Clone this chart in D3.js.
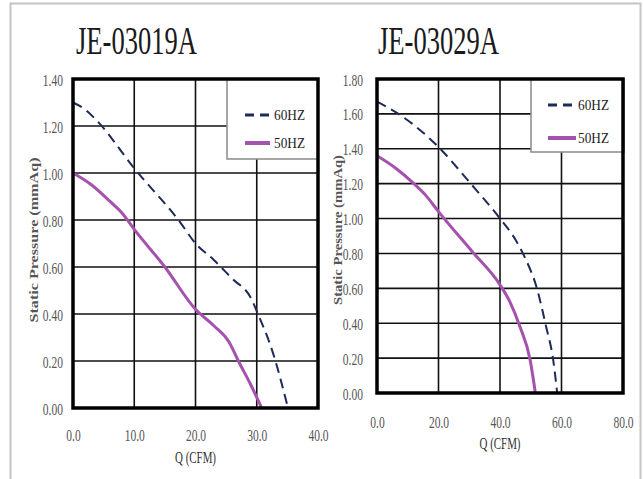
<!DOCTYPE html>
<html><head><meta charset="utf-8">
<script src="https://cdn.jsdelivr.net/npm/d3@7"></script>
<style>
body{margin:0;background:#fff;}
svg{display:block;}
.tick text{transform-box:fill-box;}
.ya .tick text{transform:scaleX(0.72);transform-origin:right center;}
.xa .tick text{transform:scaleX(0.72);transform-origin:center center;}
</style></head>
<body><div id="chart"></div>
<script>
// ---- data ----
const titles = ["JE-03019A", "JE-03029A"];
const seriesNames = ["60HZ", "50HZ"];
const xDomains = [[0, 40], [0, 80]];
const yDomains = [[0, 1.4], [0, 1.8]];
const xTicks = [[0, 10, 20, 30, 40], [0, 20, 40, 60, 80]];
const yTicks = [[0, 0.2, 0.4, 0.6, 0.8, 1.0, 1.2, 1.4], [0, 0.2, 0.4, 0.6, 0.8, 1.0, 1.2, 1.4, 1.6, 1.8]];
const xLabel = "Q (CFM)";
const yLabel = "Static Pressure (mmAq)";
// chart 1 (JE-03019A)
const a60 = [[0,1.30],[2,1.27],[4,1.22],[10,1.02],[17.5,0.79],[20,0.70],[23,0.63],[26,0.55],[29,0.47],[30.2,0.40],[32.7,0.23],[35.1,0]];
const a50 = [[0,1.00],[3,0.95],[6,0.88],[8,0.83],[10,0.76],[15,0.60],[20,0.42],[23,0.35],[25.5,0.28],[27,0.20],[29,0.10],[30.8,0]];
// chart 2 (JE-03029A)
const b60 = [[0,1.67],[7,1.60],[20,1.41],[30,1.21],[40,1.00],[45,0.88],[48,0.78],[52,0.60],[55,0.38],[57.3,0.19],[58.6,0]];
const b50 = [[0,1.36],[6,1.29],[12,1.20],[16,1.13],[20,1.04],[31,0.81],[40,0.62],[43.3,0.52],[46.5,0.38],[49.8,0.19],[51.5,0]];

const W = 644, H = 479;
const svg = d3.select("#chart").append("svg").attr("width", W).attr("height", H);
svg.append("rect").attr("x", 10.5).attr("y", 3.5).attr("width", 630).attr("height", 490)
  .attr("fill", "#fff").attr("stroke", "#c4c4c4").attr("stroke-width", 2);

const col60 = "#1e2a58", col50 = "#a452ad";
const layouts = [
  {x0:73, x1:318, y0:408, y1:79, title:{x:76, w:121}, ylab:{x:33, cy:240, len:165}, ytx:63, xty:441, xlab:463,
   leg:{x:227, y:79, w:91, h:80, r1:115, r2:143, lx:245, lx2:270, tx:274}},
  {x0:377, x1:623, y0:393, y1:79, title:{x:378, w:121}, ylab:{x:337, cy:230, len:150}, ytx:363, xty:428, xlab:449,
   leg:{x:531, y:79, w:93, h:73, r1:105, r2:138, lx:548, lx2:576, tx:578}}
];
const data = [[a60, a50], [b60, b50]];

layouts.forEach((L, i) => {
  const g = svg.append("g");
  const x = d3.scaleLinear().domain(xDomains[i]).range([L.x0, L.x1]);
  const y = d3.scaleLinear().domain(yDomains[i]).range([L.y0, L.y1]);

  g.append("text").attr("x", L.title.x).attr("y", 54).attr("font-family", "Liberation Serif")
    .attr("font-size", 40).attr("fill", "#1a1a1a").attr("textLength", L.title.w)
    .attr("lengthAdjust", "spacingAndGlyphs").text(titles[i]);

  g.append("g").selectAll("line").data(xTicks[i].slice(1, -1)).join("line")
    .attr("x1", d => x(d)).attr("x2", d => x(d)).attr("y1", L.y0).attr("y2", L.y1)
    .attr("stroke", "#111").attr("stroke-width", 1.6);
  g.append("g").selectAll("line").data(yTicks[i].slice(1, -1)).join("line")
    .attr("y1", d => y(d)).attr("y2", d => y(d)).attr("x1", L.x0).attr("x2", L.x1)
    .attr("stroke", "#111").attr("stroke-width", 1.6);

  const ya = g.append("g").attr("class", "ya").attr("transform", `translate(${L.ytx},0)`)
    .call(d3.axisLeft(y).tickValues(yTicks[i]).tickSize(0).tickPadding(0).tickFormat(d3.format(".2f")));
  const xa = g.append("g").attr("class", "xa").attr("transform", `translate(0,${L.xty - 12})`)
    .call(d3.axisBottom(x).tickValues(xTicks[i]).tickSize(0).tickPadding(0).tickFormat(d3.format(".1f")));
  [ya, xa].forEach(a => {
    a.select(".domain").remove();
    a.selectAll("text").attr("font-family", "Liberation Serif").attr("font-size", 16).attr("fill", "#555");
  });
  ya.selectAll("text").attr("dy", "0.38em");
  xa.selectAll("text").attr("dy", "0.72em");

  g.append("text").attr("transform", `translate(${L.ylab.x},${L.ylab.cy}) rotate(-90)`)
    .attr("text-anchor", "middle").attr("dy", "0.35em").attr("font-family", "Liberation Serif")
    .attr("font-weight", "bold").attr("font-size", 13).attr("fill", "#555")
    .attr("textLength", L.ylab.len).attr("lengthAdjust", "spacingAndGlyphs").text(yLabel);
  g.append("text").attr("x", x(d3.mean(xDomains[i]))).attr("y", L.xlab).attr("text-anchor", "middle")
    .attr("font-family", "Liberation Serif").attr("font-size", 16).attr("fill", "#333")
    .attr("textLength", 41).attr("lengthAdjust", "spacingAndGlyphs").text(xLabel);

  const line = d3.line().x(d => x(d[0])).y(d => y(d[1])).curve(d3.curveMonotoneX);
  g.append("path").datum(data[i][0]).attr("d", line).attr("fill", "none").attr("stroke", col60)
    .attr("stroke-width", 2).attr("stroke-dasharray", "10,6");
  g.append("path").datum(data[i][1]).attr("d", line).attr("fill", "none").attr("stroke", col50)
    .attr("stroke-width", 3);

  const lg = g.append("g");
  lg.append("rect").attr("x", L.leg.x).attr("y", L.leg.y).attr("width", L.leg.w).attr("height", L.leg.h)
    .attr("fill", "#fff").attr("stroke", "#8a8a8a").attr("stroke-width", 1.5);
  lg.append("line").attr("x1", L.leg.lx).attr("x2", L.leg.lx + 24).attr("y1", L.leg.r1).attr("y2", L.leg.r1)
    .attr("stroke", col60).attr("stroke-width", 3).attr("stroke-dasharray", "9,6");
  lg.append("line").attr("x1", L.leg.lx).attr("x2", L.leg.lx2).attr("y1", L.leg.r2).attr("y2", L.leg.r2)
    .attr("stroke", col50).attr("stroke-width", 4);
  [L.leg.r1, L.leg.r2].forEach((ry, k) => {
    lg.append("text").attr("x", L.leg.tx).attr("y", ry + 5).attr("font-family", "Liberation Serif")
      .attr("font-size", 15).attr("fill", "#222").attr("textLength", 31)
      .attr("lengthAdjust", "spacingAndGlyphs").text(seriesNames[k]);
  });

  g.append("rect").attr("x", L.x0).attr("y", L.y1).attr("width", L.x1 - L.x0).attr("height", L.y0 - L.y1)
    .attr("fill", "none").attr("stroke", "#000").attr("stroke-width", 3.5);
});
</script></body></html>
